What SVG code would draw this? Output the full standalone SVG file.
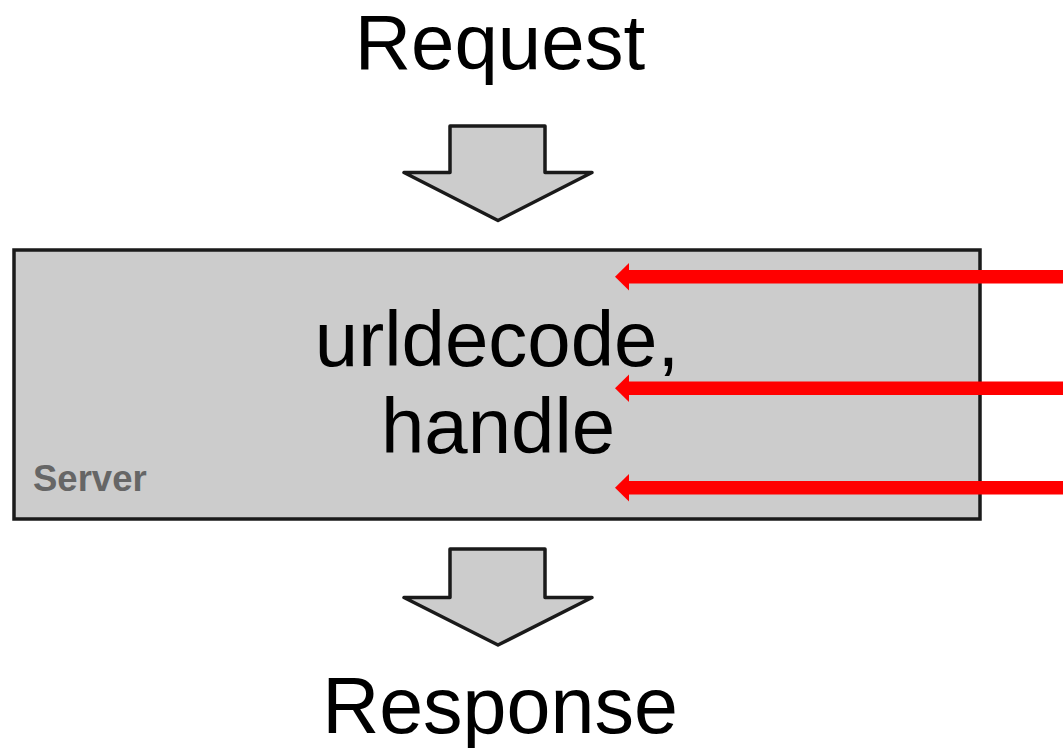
<svg xmlns="http://www.w3.org/2000/svg" width="1063" height="748" viewBox="0 0 1063 748">
<style>
.big{font-family:"Liberation Sans",Arial,sans-serif;font-size:78px;fill:#000;text-anchor:middle}
.blk{fill:#cccccc;stroke:#1a1a1a;stroke-width:3.5;stroke-linejoin:round}
.red{fill:#ff0000}
</style>
<rect width="1063" height="748" fill="#fff"/>
<g id="request">
<text class="big" x="500" y="69">Request</text>
</g>
<g id="arrow-in">
<polygon class="blk" points="450,126 545,126 545,172.5 592,172.5 498,220.5 404,172.5 450,172.5"/>
</g>
<g id="server">
<rect x="14" y="250" width="966" height="269" fill="#cccccc" stroke="#1a1a1a" stroke-width="3.5"/>
<text class="big" x="497" y="366">urldecode,</text>
<text class="big" x="498" y="453">handle</text>
<text x="33" y="491" font-family="Liberation Sans,Arial,sans-serif" font-weight="bold" font-size="36.5" fill="#666666">Server</text>
</g>
<g id="arrow-out">
<polygon class="blk" points="450,549 545,549 545,597.5 592,597.5 498,645 404,597.5 450,597.5"/>
</g>
<g id="response">
<text class="big" x="500" y="733" style="font-size:79px">Response</text>
</g>
<g id="connectors">
<rect class="red" x="626" y="270" width="437" height="13.5"/>
<polygon class="red" points="615,276.7 629,263 629,290.4"/>
<rect class="red" x="626" y="381.5" width="437" height="13.5"/>
<polygon class="red" points="615,388.3 629,374.6 629,402"/>
<rect class="red" x="626" y="481" width="437" height="13.5"/>
<polygon class="red" points="615,487.8 629,474.1 629,501.5"/>
</g>
</svg>
